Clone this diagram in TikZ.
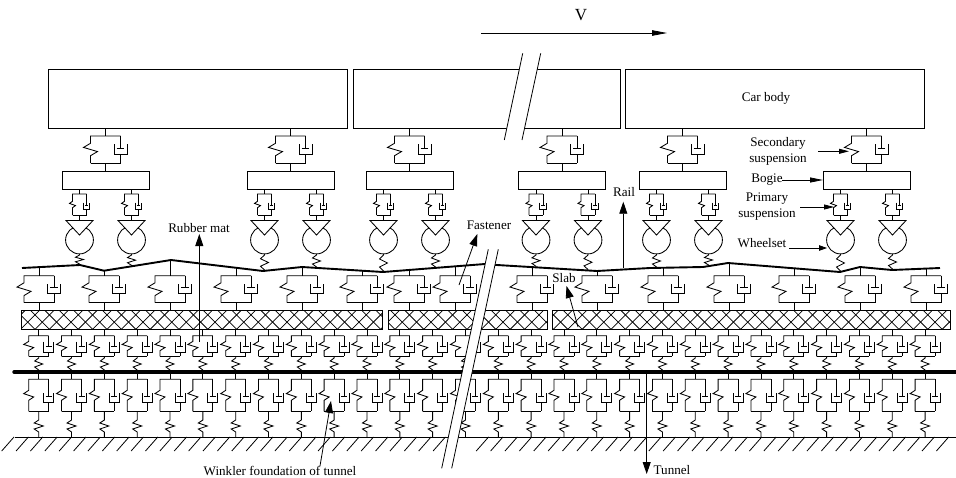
\documentclass[tikz,border=0pt]{standalone}
\usepackage{fontspec}
\setmainfont{Liberation Serif}
\usetikzlibrary{arrows.meta}
\tikzset{
  mech/.style={line width=0.85pt,line join=miter},
  lbl/.style={font=\fontsize{13.1}{15}\selectfont,inner sep=0pt,align=center},
  bigtip/.style={line width=0.8pt,-{Triangle[length=12pt,width=8pt]}},
  smalltip/.style={line width=0.8pt,-{Triangle[length=10pt,width=5pt]}},
}
\newcommand{\kv}[9]{%
  \pgfmathsetmacro\kmid{(#2+#3)/2}%
  \pgfmathsetmacro\kpy{#8+0.42*(#9-#8)}%
  \draw[mech] (#1-#4,#3) -- (#1+#4,#3);
  \draw[mech] (#1+#4,#2) -- (#1-#4,#2) -- (#1-#4,\kmid-#6) -- (#1-#4-#5,\kmid-#6/3) -- (#1-#4+#5,\kmid+#6/3) -- (#1-#4,\kmid+#6) -- (#1-#4,#3);
  \draw[mech] (#1+#4,#2) -- (#1+#4,\kpy);
  \draw[mech] (#1+#4-0.6*#7,\kpy) -- (#1+#4+0.6*#7,\kpy);
  \draw[mech] (#1+#4-#7,#8) -- (#1+#4-#7,#9) -- (#1+#4+#7,#9) -- (#1+#4+#7,#8);
  \draw[mech] (#1+#4,#9) -- (#1+#4,#3);
}
\newcommand{\zz}[6]{%
  \pgfmathsetmacro\zd{(#5-#4)/4}%
  \draw[mech] (#1,#2) -- (#1,#4) -- (#1-#6,#4+\zd) -- (#1+#6,#4+2*\zd) -- (#1-#6,#4+3*\zd) -- (#1,#5) -- (#1,#3);
}
\begin{document}
\begin{tikzpicture}[x=1pt,y=-1pt]
\useasboundingbox[fill=white] (0,0) rectangle (956,477);

% car bodies
\draw[mech] (48,69) rectangle (347,128);
\draw[mech] (353,69) rectangle (620,128);
\draw[mech] (625,69) rectangle (924,128);

% bogies with secondary and primary suspension, wheelsets
\foreach \b/\ra/\rb in {105.5/265/266.3, 290.5/271/268, 409.5/272/268, 562/267.3/270.5, 682.5/268/266, 866.5/272/270}{
  \draw[mech] (\b-43.5,171) rectangle (\b+43.5,189);
  \draw[mech] (\b,128) -- (\b,136);
  \draw[mech] (\b,163) -- (\b,171);
  \kv{\b}{136}{163}{15}{7}{6.2}{6.5}{144}{154}
  \foreach \s/\r in {-26/\ra, 26/\rb}{
    \pgfmathsetmacro\w{\b+\s}
    \draw[mech] (\w,189) -- (\w,194);
    \kv{\w}{194}{215}{7}{3}{3.2}{3.3}{202.7}{209.3}
    \draw[mech] (\w,215) -- (\w,220.5);
    \draw[mech] (\w,240) circle[radius=13.9];
    \draw[mech,fill=white] (\w-13.5,220.5) -- (\w+13.5,220.5) -- (\w,235) -- cycle;
    \zz{\w}{254}{\r}{255}{\r-1}{4}
  }
}

% fastener units
\foreach \x/\r in {39/267, 104/270.7, 170/260.2, 236/267.8, 302/267, 362/270.7, 409/270, 455/266.4, 532/267, 597/271, 663/267.8, 729/263, 794/268.3, 860/267, 926/268.6}{
  \draw[mech] (\x,\r) -- (\x,275.7);
  \kv{\x}{275.7}{302.7}{15}{7}{6.4}{6.5}{284}{293.3}
  \draw[mech] (\x,302.7) -- (\x,310.7);
}

% rail
\draw[line width=1.9pt,line join=round] (22,268) -- (80,265) -- (104,270.7) -- (171,260) -- (263,271) -- (302,267) -- (383,272) -- (485,264) -- (497,265) -- (597,271) -- (650,268) -- (703,267) -- (728,263) -- (840,272) -- (860,267) -- (892,270) -- (940,268);

% slab
\begin{scope}
  \clip (21,310.7) rectangle (382,329.3) (388,310.7) rectangle (547,329.3) (552,310.7) rectangle (950,329.3);
  \foreach \k in {-2,...,66}{
    \pgfmathsetmacro\hx{35+14.4*\k}
    \draw[line width=0.75pt] (\hx,329.3) -- (\hx+20,309.3);
    \draw[line width=0.75pt] (\hx,329.3) -- (\hx-20,309.3);
  }
\end{scope}
\foreach \p/\q in {21/382, 388/547, 552/950}{
  \draw[mech] (\p,310.7) rectangle (\q,329.3);
}

% rubber mat and tunnel foundation units
\foreach \i in {0,...,27}{
  \pgfmathsetmacro\x{38.7+32.83*\i}
  \draw[mech] (\x,329.3) -- (\x,335.7);
  \kv{\x}{335.7}{356.3}{10}{5}{4.6}{5}{341.7}{352}
  \zz{\x}{356.3}{372}{358}{370}{4}
  \draw[mech] (\x,372) -- (\x,379.3);
  \kv{\x}{379.3}{411.3}{10}{5}{5}{5}{393}{402}
  \zz{\x}{411.3}{437}{420}{432}{4.5}
}

% tunnel beam
\draw[line width=3.4pt,line cap=round] (14,372) -- (954,372);
\draw[line width=3.4pt] (950,372) -- (956,372);

% ground
\draw[mech] (15,437) -- (956,437);
\foreach \k in {0,...,65}{
  \pgfmathsetmacro\gx{14+14.38*\k}
  \ifnum\k=31\else\ifnum\k=32\else
    \draw[line width=0.8pt] (\gx,437) -- (\gx-12.3,451);
  \fi\fi
}

% breaks
\fill[white] (488.3,249.3) -- (498.3,249.3) -- (451.7,468.3) -- (441.7,468.3) -- cycle;
\draw[line width=0.8pt] (488.3,249.3) -- (441.7,468.3);
\draw[line width=0.8pt] (498.3,249.3) -- (451.7,468.3);
\fill[white] (522.7,53.3) -- (540.7,53.3) -- (522,140) -- (504.3,140) -- cycle;
\draw[line width=0.8pt] (522.7,53.3) -- (504.3,140);
\draw[line width=0.8pt] (540.7,53.3) -- (522,140);

% labels
\node[lbl,font=\fontsize{17}{19}\selectfont] (lv) at (581,15) {V};
\node[lbl] (lcar) at (766,98) {Car body};
\node[lbl] (lsec) at (778,151) {Secondary\\[1pt]suspension};
\node[lbl] (lbog) at (767,180) {Bogie};
\node[lbl] (lpri) at (767,207) {Primary\\[1pt]suspension};
\node[lbl] (lwhe) at (762,243) {Wheelset};
\node[lbl] (lrai) at (624,192) {Rail};
\node[lbl] (lrub) at (199,228) {Rubber mat};
\node[lbl] (lfas) at (489,225.7) {Fastener};
\node[lbl] (lsla) at (564,278) {Slab};
\node[lbl] (lwin) at (280,470.7) {Winkler foundation of tunnel};
\node[lbl] (ltun) at (672,470) {Tunnel};

% arrow ends
\coordinate (va) at (481,33);   \coordinate (vb) at (667,33);
\coordinate (sa) at (818,151.3); \coordinate (sb) at (849,151.3);
\coordinate (ba) at (782,180);  \coordinate (bb) at (823,180);
\coordinate (pa) at (800,207);  \coordinate (pb) at (834,207);
\coordinate (wa) at (789,248);  \coordinate (wb) at (827,248);
\coordinate (ra) at (623.3,268); \coordinate (rb) at (623.3,201.7);
\coordinate (ma) at (199.3,342); \coordinate (mb) at (199.3,234);
\coordinate (fa) at (459,285);  \coordinate (fb) at (477.3,234);
\coordinate (la) at (578,327);  \coordinate (lb) at (566.5,286);
\coordinate (ga) at (320,466);  \coordinate (gb) at (331,401);
\coordinate (ta) at (646.7,372); \coordinate (tb) at (646.7,474);

\draw[line width=0.8pt,-{Triangle[length=15pt,width=5.5pt]}] (va) -- (vb);
\draw[smalltip] (sa) -- (sb);
\draw[line width=0.8pt,-{Triangle[length=13pt,width=5pt]}] (ba) -- (bb);
\draw[smalltip] (pa) -- (pb);
\draw[line width=0.8pt,-{Triangle[length=8pt,width=5.5pt]}] (wa) -- (wb);
\draw[bigtip] (ra) -- (rb);
\draw[bigtip] (ma) -- (mb);
\draw[bigtip] (fa) -- (fb);
\draw[bigtip] (la) -- (lb);
\draw[bigtip] (ga) -- (gb);
\draw[bigtip] (ta) -- (tb);
\end{tikzpicture}
\end{document}
